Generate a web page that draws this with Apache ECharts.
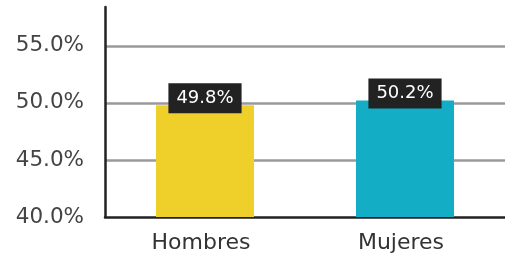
<!DOCTYPE html>
<html>
<head>
<meta charset="utf-8">
<script src="https://cdn.jsdelivr.net/npm/echarts@6/dist/echarts.min.js"></script>
<style>
  html, body { margin: 0; padding: 0; background: #fff; }
  #main { width: 505px; height: 259px; }
</style>
</head>
<body>
<div id="main"></div>
<script>
// datos del gráfico
const categories = ['Hombres', 'Mujeres'];
const values = [49.8, 50.2];
const barColors = ['#EFCF2A', '#13AEC6'];

var myChart = echarts.init(document.getElementById('main'));

myChart.setOption({
  animation: false,
  textStyle: { fontFamily: 'DejaVu Sans' },
  grid: { left: 105, right: 0, top: 7, bottom: 42 },
  xAxis: {
    type: 'category',
    data: categories,
    axisLine: { lineStyle: { color: '#222', width: 2.5 } },
    axisTick: { show: false },
    axisLabel: { color: '#333', fontSize: 22, margin: 15, padding: [0, 8, 0, 0] }
  },
  yAxis: {
    type: 'value',
    min: 40,
    max: 58.4,
    interval: 5,
    splitLine: {
      show: true,
      showMinLine: false,
      showMaxLine: false,
      lineStyle: { color: '#9a9a9a', width: 2.5 }
    },
    axisLine: { show: true, lineStyle: { color: '#222', width: 2.5 } },
    axisTick: { show: false },
    axisLabel: {
      color: '#444',
      fontSize: 21.5,
      margin: 21,
      showMaxLabel: false,
      formatter: v => v.toFixed(1) + '%'
    }
  },
  series: [
    {
      type: 'bar',
      barWidth: 98,
      data: values.map((v, i) => ({ value: v, itemStyle: { color: barColors[i] } })),
      label: {
        show: true,
        position: 'top',
        distance: -8,
        formatter: p => p.value.toFixed(1) + '%',
        color: '#fff',
        fontSize: 18,
        lineHeight: 20,
        backgroundColor: '#222',
        padding: [5, 8, 5, 8]
      }
    }
  ]
});
</script>
</body>
</html>
